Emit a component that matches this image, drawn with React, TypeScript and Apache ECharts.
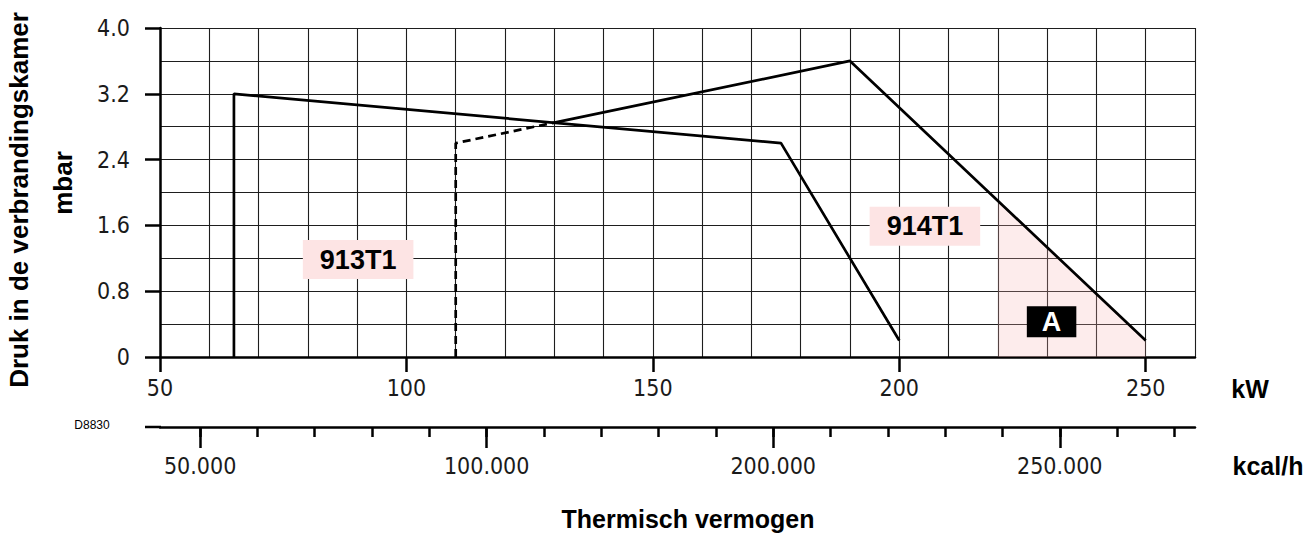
import React, { useEffect, useRef } from "react";
import * as echarts from "echarts";

// kW positions / mbar values
const line913T1: [number, number][] = [[65, 0], [65, 3.2], [176, 2.6], [200, 0.2]];
const line914T1Dashed: [number, number][] = [[110, 0], [110, 2.6], [130, 2.85]];
const line914T1Solid: [number, number][] = [[130, 2.85], [190, 3.6], [250, 0.2]];
const areaA: [number, number][] = [[220, 1.9], [250, 0.2]];

const kwTicks = [50, 100, 150, 200, 250];
const mbarTicks = [0, 0.8, 1.6, 2.4, 3.2, 4.0];
const kcalMajor = [50000, 100000, 150000, 200000];
const kcalMajorLabels = ["50.000", "100.000", "200.000", "250.000"];
const kcalMinor = [50000, 60000, 70000, 80000, 90000, 100000, 110000, 120000, 130000, 140000, 150000, 160000, 170000, 180000, 190000, 200000, 210000, 220000];

const boxLabels = [
  { name: "913T1", value: [90.2, 1.185] },
  { name: "914T1", value: [205.2, 1.59] },
  { name: "A", value: [230.9, 0.43] },
];

const NARROW = "'Liberation Sans Narrow', 'DejaVu Sans Condensed', sans-serif";
const SANS = "'Liberation Sans', Arial, Helvetica, sans-serif";

export default function App() {
  const ref = useRef<HTMLDivElement>(null);
  useEffect(() => {
    if (!ref.current) return;
    const chart = echarts.init(ref.current, undefined, { renderer: "svg" });
    const tickLabelStyle = { fontFamily: NARROW, fontSize: 23, color: "#1a1a1a" };
    const gridLine = { show: true, lineStyle: { color: "#1e1e1e", width: 1.1 } };
    const blackLine = { color: "#000", width: 2.5 };
    chart.setOption({
      animation: false,
      backgroundColor: "#ffffff",
      grid: { left: 160, right: 112, top: 28, bottom: 178, containLabel: false },
      xAxis: [
        {
          type: "value",
          min: 50,
          max: 260,
          interval: 10,
          axisLine: { show: false, onZero: false },
          axisTick: { show: false },
          axisLabel: { show: false },
          splitLine: gridLine,
        },
        {
          type: "value",
          position: "bottom",
          min: 50,
          max: 260,
          axisLine: { show: true, onZero: false, lineStyle: blackLine },
          axisTick: { show: true, customValues: kwTicks, length: 15, lineStyle: blackLine },
          axisLabel: { show: true, customValues: kwTicks, margin: 19, ...tickLabelStyle, formatter: (v: number) => String(v) },
          splitLine: { show: false },
        },
        {
          type: "value",
          position: "bottom",
          offset: 70,
          min: 43000,
          max: 223600,
          axisLine: { show: true, onZero: false, lineStyle: blackLine },
          axisTick: { show: true, customValues: kcalMajor, length: 21, lineStyle: blackLine },
          axisLabel: {
            show: true,
            customValues: kcalMajor,
            margin: 27,
            ...tickLabelStyle,
            formatter: (v: number) => {
              const i = kcalMajor.indexOf(v);
              return i >= 0 ? kcalMajorLabels[i] : "";
            },
          },
          splitLine: { show: false },
        },
        {
          type: "value",
          position: "bottom",
          offset: 70,
          min: 43000,
          max: 223600,
          axisLine: { show: false, onZero: false },
          axisTick: { show: true, customValues: kcalMinor, length: 10, lineStyle: blackLine },
          axisLabel: { show: false },
          splitLine: { show: false },
        },
      ],
      yAxis: [
        {
          type: "value",
          min: 0,
          max: 4,
          interval: 0.4,
          axisLine: { show: false, onZero: false },
          axisTick: { show: false },
          axisLabel: { show: false },
          splitLine: gridLine,
        },
        {
          type: "value",
          position: "left",
          min: 0,
          max: 4,
          axisLine: { show: true, onZero: false, lineStyle: blackLine },
          axisTick: { show: true, customValues: mbarTicks, length: 15, lineStyle: blackLine },
          axisLabel: {
            show: true,
            customValues: mbarTicks,
            margin: 30,
            ...tickLabelStyle,
            formatter: (v: number) => (v === 0 ? "0" : v.toFixed(1)),
          },
          splitLine: { show: false },
        },
      ],
      series: [
        {
          type: "line",
          data: areaA,
          symbol: "none",
          lineStyle: { width: 0, opacity: 0 },
          areaStyle: { color: "rgba(247,180,180,0.36)" },
          z: 1,
          silent: true,
        },
        {
          type: "line",
          data: line913T1,
          symbol: "none",
          lineStyle: { color: "#000", width: 2.7 },
          z: 3,
        },
        {
          type: "line",
          data: line914T1Dashed,
          symbol: "none",
          lineStyle: { color: "#000", width: 2.7, type: [8, 5] },
          z: 3,
        },
        {
          type: "line",
          data: line914T1Solid,
          symbol: "none",
          lineStyle: { color: "#000", width: 2.7 },
          z: 3,
        },
        {
          type: "scatter",
          symbolSize: 1,
          itemStyle: { opacity: 0 },
          z: 5,
          data: boxLabels.map((b) => ({
            name: b.name,
            value: b.value,
            label:
              b.name === "A"
                ? { backgroundColor: "#000000", color: "#ffffff", padding: [2, 15, 2, 15], fontSize: 27, lineHeight: 27 }
                : { backgroundColor: "#fde4e4", color: "#000000", padding: [6, 17, 6, 17], fontSize: 27, lineHeight: 27 },
          })),
          label: {
            show: true,
            position: "inside",
            opacity: 1,
            formatter: (p: any) => p.name,
            fontFamily: SANS,
            fontWeight: "bold",
          },
        },
      ],
      graphic: [
        {
          type: "text",
          x: 19,
          y: 200,
          rotation: Math.PI / 2,
          style: { text: "Druk in de verbrandingskamer", fontFamily: SANS, fontWeight: "bold", fontSize: 26, fill: "#000", textAlign: "center", textVerticalAlign: "middle" },
        },
        {
          type: "text",
          x: 63,
          y: 183,
          rotation: Math.PI / 2,
          style: { text: "mbar", fontFamily: SANS, fontWeight: "bold", fontSize: 26, fill: "#000", textAlign: "center", textVerticalAlign: "middle" },
        },
        {
          type: "text",
          x: 1250,
          y: 389,
          style: { text: "kW", fontFamily: SANS, fontWeight: "bold", fontSize: 25, fill: "#000", textAlign: "center", textVerticalAlign: "middle" },
        },
        {
          type: "text",
          x: 1268,
          y: 466,
          style: { text: "kcal/h", fontFamily: SANS, fontWeight: "bold", fontSize: 25, fill: "#000", textAlign: "center", textVerticalAlign: "middle" },
        },
        {
          type: "text",
          x: 92,
          y: 425,
          style: { text: "D8830", fontFamily: SANS, fontSize: 12, fill: "#000", textAlign: "center", textVerticalAlign: "middle" },
        },
        {
          type: "text",
          x: 688,
          y: 519,
          style: { text: "Thermisch vermogen", fontFamily: SANS, fontWeight: "bold", fontSize: 25, fill: "#000", textAlign: "center", textVerticalAlign: "middle" },
        },
        {
          type: "line",
          shape: { x1: 145, y1: 427, x2: 161, y2: 427 },
          style: { stroke: "#000", lineWidth: 2.5 },
        },
      ],
    });
    return () => chart.dispose();
  }, []);
  return <div ref={ref} style={{ position: "absolute", left: 0, top: 0, width: 1307, height: 535 }} />;
}
